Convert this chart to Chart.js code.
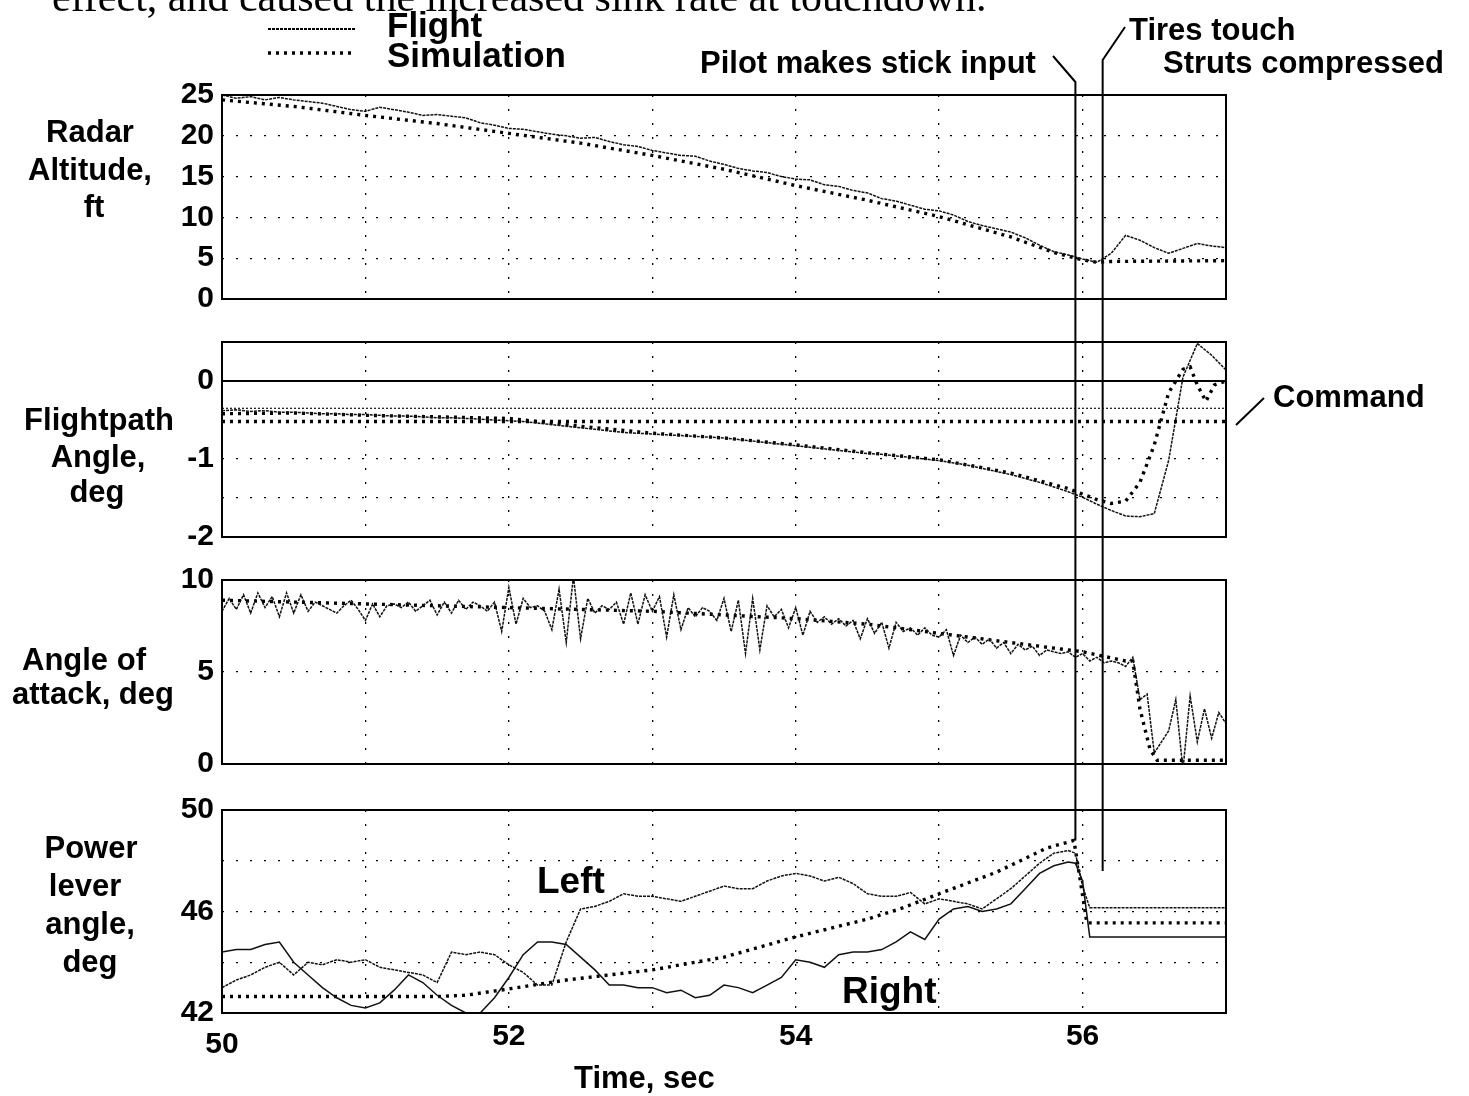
<!DOCTYPE html>
<html><head><meta charset="utf-8">
<script src="https://cdn.jsdelivr.net/npm/chart.js@4/dist/chart.umd.min.js"></script>
<style>
html,body{margin:0;padding:0;background:#fff;}
body{width:1469px;height:1096px;position:relative;overflow:hidden;font-family:"Liberation Sans",Arial,sans-serif;}
canvas.p{position:absolute;left:0;}
#ov{position:absolute;left:0;top:0;z-index:5;pointer-events:none;}
.t{position:absolute;font-weight:bold;color:#000;line-height:1;white-space:nowrap;z-index:6;}
</style></head><body>
<canvas id="c1" class="p" width="1469" height="270" style="top:55px"></canvas>
<canvas id="c2" class="p" width="1469" height="261" style="top:302px"></canvas>
<canvas id="c3" class="p" width="1469" height="250" style="top:540px"></canvas>
<canvas id="c4" class="p" width="1469" height="303" style="top:770px"></canvas>
<canvas id="ov" width="1469" height="1096"></canvas>
<div id="txt"></div>
<script>
// ---------- DATA ----------
const t10 = [50.0,50.1,50.2,50.3,50.4,50.5,50.6,50.7,50.8,50.9,
  51.0,51.1,51.2,51.3,51.4,51.5,51.6,51.7,51.8,51.9,
  52.0,52.1,52.2,52.3,52.4,52.5,52.6,52.7,52.8,52.9,
  53.0,53.1,53.2,53.3,53.4,53.5,53.6,53.7,53.8,53.9,
  54.0,54.1,54.2,54.3,54.4,54.5,54.6,54.7,54.8,54.9,
  55.0,55.1,55.2,55.3,55.4,55.5,55.6,55.7,55.8,55.9,
  56.0,56.1,56.2,56.3,56.4,56.5,56.6,56.7,56.8,56.9,57.0];

// Radar altitude, ft
const altFlight = [25.0,24.6,24.8,24.4,24.7,24.4,24.2,24.0,23.6,23.2,
  23.0,23.5,23.2,22.9,22.5,22.6,22.4,22.2,21.6,21.3,
  20.9,20.8,20.5,20.2,20.0,19.7,19.8,19.3,18.9,18.7,
  18.2,17.9,17.6,17.5,16.9,16.5,16.0,15.7,15.5,15.0,
  14.7,14.6,14.0,13.8,13.3,13.0,12.3,12.0,11.5,11.0,
  10.8,10.3,9.5,9.0,8.6,8.2,7.5,6.6,5.8,5.4,
  4.9,4.5,5.6,7.8,7.2,6.3,5.6,6.2,6.8,6.5,6.3];
const altSimTime = [50.0,50.5,51.0,51.5,52.0,52.5,53.0,53.5,54.0,54.5,55.0,55.5,55.8,56.0,56.1,56.2,57.0];
const altSim = [24.4,23.6,22.5,21.5,20.3,19.1,17.6,15.9,13.9,12.1,10.1,7.6,5.7,4.8,4.5,4.6,4.7];

// Flightpath angle, deg
const fpaFlight = [-0.38,-0.37,-0.39,-0.38,-0.40,-0.40,-0.41,-0.42,-0.42,-0.43,
  -0.43,-0.44,-0.45,-0.45,-0.46,-0.47,-0.47,-0.48,-0.49,-0.50,
  -0.51,-0.52,-0.54,-0.56,-0.58,-0.60,-0.62,-0.64,-0.66,-0.67,
  -0.68,-0.69,-0.70,-0.71,-0.72,-0.73,-0.75,-0.77,-0.79,-0.81,
  -0.83,-0.85,-0.87,-0.89,-0.91,-0.93,-0.94,-0.96,-0.98,-1.00,
  -1.02,-1.05,-1.08,-1.12,-1.16,-1.20,-1.25,-1.30,-1.36,-1.42,
  -1.49,-1.58,-1.66,-1.73,-1.74,-1.70,-1.02,0.05,0.48,0.33,0.14];
const fpaSimTime = [50.0,50.5,51.0,51.5,52.0,52.5,53.0,53.5,54.0,54.5,55.0,55.5,55.9,56.0,56.1,56.2,56.3,56.4,56.5,56.6,56.7,56.75,56.8,56.86,56.92,57.0];
const fpaSim = [-0.42,-0.41,-0.44,-0.46,-0.48,-0.58,-0.67,-0.73,-0.82,-0.92,-1.01,-1.18,-1.38,-1.45,-1.52,-1.57,-1.54,-1.30,-0.82,-0.15,0.15,0.18,-0.05,-0.26,-0.05,0.0];
const cmdTime = [50.0,57.0];
const cmdFlight = [-0.35,-0.35];
const cmdSim = [-0.52,-0.52];
const zeroLine = [0,0];

// Angle of attack, deg
const aoaTime = [
  50.00,50.05,50.10,50.15,50.20,50.25,50.30,50.35,50.40,50.45,50.50,50.55,50.60,50.65,50.70,50.75,50.80,50.85,50.90,50.95,
  51.00,51.05,51.10,51.15,51.20,51.25,51.30,51.35,51.40,51.45,51.50,51.55,51.60,51.65,51.70,51.75,51.80,51.85,51.90,51.95,
  52.00,52.05,52.10,52.15,52.20,52.25,52.30,52.35,52.40,52.45,52.50,52.55,52.60,52.65,52.70,52.75,52.80,52.85,52.90,52.95,
  53.00,53.05,53.10,53.15,53.20,53.25,53.30,53.35,53.40,53.45,53.50,53.55,53.60,53.65,53.70,53.75,53.80,53.85,53.90,53.95,
  54.00,54.05,54.10,54.15,54.20,54.25,54.30,54.35,54.40,54.45,54.50,54.55,54.60,54.65,54.70,54.75,54.80,54.85,54.90,54.95,
  55.00,55.05,55.10,55.15,55.20,55.25,55.30,55.35,55.40,55.45,55.50,55.55,55.60,55.65,55.70,55.75,55.80,55.85,55.90,55.95,
  56.00,56.05,56.10,56.15,56.20,56.25,56.30,56.35,56.40,56.45,56.50,56.55,56.60,56.65,56.70,56.75,56.80,56.85,56.90,56.95,
  57.00];
const aoaFlight = [
  8.3,9.0,8.4,9.2,8.2,9.3,8.5,9.1,8.0,9.3,8.2,9.2,8.3,8.8,8.6,8.4,8.2,8.6,8.9,8.4,
  7.8,8.7,8.0,8.6,8.7,8.5,8.8,8.3,8.6,8.9,8.1,8.8,8.2,8.9,8.4,8.8,8.6,8.3,8.8,7.2,
  9.6,7.6,9.0,8.5,8.6,8.3,7.3,9.5,6.6,10.2,6.8,9.0,8.2,8.6,8.4,8.8,7.6,9.3,7.6,9.2,
  8.3,9.1,6.9,9.2,7.3,8.5,8.0,8.5,8.3,7.8,9.0,7.2,8.9,6.0,9.0,6.2,8.6,8.0,8.4,7.4,
  8.5,7.0,8.3,7.7,8.0,7.6,7.9,7.5,7.8,6.8,7.9,7.1,7.7,6.3,7.7,7.2,7.4,7.0,7.4,7.0,
  6.9,7.3,5.9,7.0,6.6,6.9,6.5,6.8,6.3,6.6,6.0,6.5,6.2,6.4,5.9,6.2,6.1,6.0,6.1,5.8,
  6.0,5.6,5.8,5.5,5.6,5.5,5.3,5.8,3.5,3.8,0.6,1.2,1.8,3.5,-0.3,3.7,1.2,3.0,1.4,2.8,
  2.2];
const aoaSimTime = [50.0,50.5,51.0,51.5,52.0,52.5,53.0,53.5,54.0,54.5,55.0,55.5,56.0,56.3,56.35,56.4,56.47,56.52,57.0];
const aoaSim = [8.9,8.8,8.7,8.6,8.5,8.4,8.3,8.1,7.9,7.6,7.1,6.6,6.1,5.6,5.6,3.0,0.8,0.2,0.2];

// Power lever angle, deg
const powTime = [50.0,50.1,50.2,50.3,50.4,50.5,50.6,50.7,50.8,50.9,
  51.0,51.1,51.2,51.3,51.4,51.5,51.6,51.7,51.8,51.9,
  52.0,52.1,52.2,52.3,52.4,52.5,52.6,52.7,52.8,52.9,
  53.0,53.1,53.2,53.3,53.4,53.5,53.6,53.7,53.8,53.9,
  54.0,54.1,54.2,54.3,54.4,54.5,54.6,54.7,54.8,54.9,
  55.0,55.1,55.2,55.3,55.4,55.5,55.6,55.7,55.8,55.9,
  55.95,56.0,56.05,
  56.1,56.2,56.3,56.4,56.5,56.6,56.7,56.8,56.9,57.0];
const powLeft = [43.0,43.3,43.5,43.8,44.0,43.5,44.0,43.9,44.1,44.0,
  44.1,43.8,43.7,43.6,43.5,43.2,44.4,44.3,44.4,44.3,
  43.9,43.6,43.1,43.1,44.8,46.1,46.2,46.4,46.7,46.6,
  46.6,46.5,46.4,46.6,46.8,47.0,46.9,46.9,47.2,47.4,
  47.5,47.4,47.2,47.35,47.1,46.7,46.6,46.6,46.75,46.3,
  46.5,46.4,46.3,46.1,46.5,46.9,47.4,47.9,48.3,48.4,
  48.3,47.0,46.15,
  46.15,46.15,46.15,46.15,46.15,46.15,46.15,46.15,46.15,46.15];
const powRight = [44.4,44.5,44.5,44.7,44.8,44.0,43.5,43.0,42.6,42.3,
  42.2,42.4,42.9,43.5,43.2,42.7,42.3,42.0,42.0,42.6,
  43.4,44.3,44.8,44.8,44.7,44.2,43.7,43.1,43.1,43.0,
  43.0,42.8,42.9,42.6,42.7,43.1,43.0,42.8,43.1,43.4,
  44.1,44.0,43.8,44.3,44.4,44.4,44.5,44.8,45.2,44.9,
  45.7,46.1,46.2,46.0,46.1,46.3,46.9,47.5,47.8,47.95,
  47.9,47.2,45.0,
  45.0,45.0,45.0,45.0,45.0,45.0,45.0,45.0,45.0,45.0];
const powSimTime = [50.0,51.5,51.7,52.0,52.4,53.0,53.5,54.0,54.5,54.75,55.0,55.4,55.75,55.94,55.99,56.03,57.0];
const powSim = [42.65,42.65,42.7,42.95,43.3,43.7,44.2,45.0,45.7,46.15,46.7,47.55,48.5,48.8,47.0,45.55,45.55];

// Events (time, sec) and where their marker lines end in the power panel (deg)
const eventTimes = [55.95, 56.14];
const eventEnds = [48.8, 47.6];

// Tick labels
const xTickLabels = [50, 52, 54, 56];
const altTicks = [0, 5, 10, 15, 20, 25];
const fpaTicks = [0, -1, -2];
const aoaTicks = [0, 5, 10];
const powTicks = [42, 46, 50];

// ---------- CHARTS ----------
Chart.defaults.font.family = '"Liberation Sans", Arial, sans-serif';
Chart.defaults.color = '#000';

const pts = (xs, ys) => xs.map((x, i) => ({x: x, y: ys[i]}));
const flightStyle = {borderColor: '#111', borderWidth: 1.5, borderDash: [3, 1], pointRadius: 0, tension: 0, fill: false};
const simStyle = {borderColor: '#000', borderWidth: 3.4, borderDash: [3, 5], pointRadius: 0, tension: 0, fill: false};
const near = (a, b) => Math.abs(a - b) < 1e-6;

const framePlugin = {
  id: 'frame',
  afterDraw(chart) {
    const a = chart.chartArea, c = chart.ctx;
    c.save(); c.strokeStyle = '#000'; c.lineWidth = 2;
    c.strokeRect(a.left, a.top, a.right - a.left, a.bottom - a.top);
    c.restore();
  }
};

function makePanel(id, datasets, y, isBottom) {
  const xGrid = [51, 52, 53, 54, 55, 56];
  return new Chart(document.getElementById(id), {
    type: 'line',
    data: {datasets: datasets},
    plugins: [framePlugin],
    options: {
      responsive: false, animation: false, events: [],
      layout: {padding: {top: 40, right: 243, left: 0, bottom: 0}},
      plugins: {legend: {display: false}, tooltip: {enabled: false}},
      scales: {
        x: {
          type: 'linear', min: 50, max: 57,
          afterFit: s => { s.height = isBottom ? 60 : 20; },
          grid: {drawTicks: false, lineWidth: 1.3,
            color: c => (c.tick && xGrid.some(v => near(v, c.tick.value))) ? '#000' : 'rgba(0,0,0,0)'},
          border: {display: false, dash: [2, 12]},
          ticks: {
            display: isBottom, stepSize: 1, autoSkip: false, maxRotation: 0, padding: 20,
            font: {size: 30, weight: 'bold', lineHeight: 0.27},
            callback: v => {
              if (!xTickLabels.some(t => near(t, v))) return '';
              return near(v, 50) ? ['', '50'] : String(v);
            }
          }
        },
        y: {
          type: 'linear', min: y.min, max: y.max,
          afterFit: s => { s.width = 222; },
          grid: {drawTicks: false, lineWidth: 1.3,
            color: c => (c.tick && y.grid.some(v => near(v, c.tick.value))) ? '#000' : 'rgba(0,0,0,0)'},
          border: {display: false, dash: [2, 12]},
          ticks: {
            stepSize: y.step, autoSkip: false, padding: 8,
            font: {size: 30, weight: 'bold'},
            callback: v => y.labels.some(t => near(t, v)) ? String(v) : ''
          }
        }
      }
    }
  });
}

const charts = [];
charts.push(makePanel('c1', [
  Object.assign({label: 'Flight', data: pts(t10, altFlight)}, flightStyle),
  Object.assign({label: 'Simulation', data: pts(altSimTime, altSim)}, simStyle)
], {min: 0, max: 25, step: 5, labels: altTicks, grid: [5, 10, 15, 20]}, false));

charts.push(makePanel('c2', [
  Object.assign({label: 'Zero', data: pts(cmdTime, zeroLine)}, {borderColor: '#000', borderWidth: 2, pointRadius: 0}),
  Object.assign({label: 'Command (flight)', data: pts(cmdTime, cmdFlight)}, flightStyle, {borderDash: [2, 2], borderWidth: 1.2}),
  Object.assign({label: 'Command (sim)', data: pts(cmdTime, cmdSim)}, simStyle),
  Object.assign({label: 'Flight', data: pts(t10, fpaFlight)}, flightStyle),
  Object.assign({label: 'Simulation', data: pts(fpaSimTime, fpaSim)}, simStyle)
], {min: -2, max: 0.5, step: 0.5, labels: fpaTicks, grid: [-1.5, -1]}, false));

charts.push(makePanel('c3', [
  Object.assign({label: 'Flight', data: pts(aoaTime, aoaFlight)}, flightStyle),
  Object.assign({label: 'Simulation', data: pts(aoaSimTime, aoaSim)}, simStyle)
], {min: 0, max: 10, step: 5, labels: aoaTicks, grid: [5]}, false));

charts.push(makePanel('c4', [
  Object.assign({label: 'Left', data: pts(powTime, powLeft)}, flightStyle),
  Object.assign({label: 'Right', data: pts(powTime, powRight)}, flightStyle, {borderDash: []}),
  Object.assign({label: 'Simulation', data: pts(powSimTime, powSim)}, simStyle)
], {min: 42, max: 50, step: 2, labels: powTicks, grid: [44, 46, 48]}, true));

// ---------- OVERLAY (event markers, legend samples) ----------
const ov = document.getElementById('ov').getContext('2d');
const c4top = 770;
const xs = charts[3].scales.x, ys4 = charts[3].scales.y;
const ex = eventTimes.map(t => xs.getPixelForValue(t));
const ey = eventEnds.map(v => ys4.getPixelForValue(v) + c4top);
ov.strokeStyle = '#000'; ov.lineWidth = 2; ov.lineJoin = 'round';
ov.beginPath(); ov.moveTo(1053, 56); ov.lineTo(ex[0], 82); ov.lineTo(ex[0], ey[0]); ov.stroke();
ov.beginPath(); ov.moveTo(1125, 27); ov.lineTo(ex[1], 60); ov.lineTo(ex[1], ey[1]); ov.stroke();
ov.beginPath(); ov.moveTo(1236, 425); ov.lineTo(1264, 398); ov.stroke();
// legend samples
ov.save(); ov.lineWidth = 2; ov.setLineDash([3, 1]);
ov.beginPath(); ov.moveTo(268, 29); ov.lineTo(356, 29); ov.stroke(); ov.restore();
ov.save(); ov.lineWidth = 3.4; ov.setLineDash([3, 5]);
ov.beginPath(); ov.moveTo(268, 53); ov.lineTo(356, 53); ov.stroke(); ov.restore();

// ---------- TEXT ----------
const texts = [
  {s: 'effect, and caused the increased sink rate at touchdown.', x: 52, b: 11, size: 42, serif: true},
  {s: 'Flight', x: 387, b: 37, size: 35},
  {s: 'Simulation', x: 387, b: 67, size: 35},
  {s: 'Pilot makes stick input', x: 700, b: 73, size: 31},
  {s: 'Tires touch', x: 1129, b: 40, size: 31},
  {s: 'Struts compressed', x: 1163, b: 73, size: 31},
  {s: 'Command', x: 1273, b: 407, size: 31},
  {s: 'Left', x: 537, b: 893, size: 37},
  {s: 'Right', x: 842, b: 1003, size: 37},
  {s: 'Time, sec', x: 574, b: 1088, size: 31},
  {s: 'Radar', x: 90, b: 142, size: 31, c: true},
  {s: 'Altitude,', x: 90, b: 180, size: 31, c: true},
  {s: 'ft', x: 94, b: 217, size: 31, c: true},
  {s: 'Flightpath', x: 99, b: 430, size: 31, c: true},
  {s: 'Angle,', x: 98, b: 467, size: 31, c: true},
  {s: 'deg', x: 97, b: 502, size: 31, c: true},
  {s: 'Angle of', x: 84, b: 670, size: 31, c: true},
  {s: 'attack, deg', x: 93, b: 704, size: 31, c: true},
  {s: 'Power', x: 91, b: 858, size: 31, c: true},
  {s: 'lever', x: 85, b: 896, size: 31, c: true},
  {s: 'angle,', x: 90, b: 934, size: 31, c: true},
  {s: 'deg', x: 90, b: 972, size: 31, c: true}
];
const host = document.getElementById('txt');
texts.forEach(o => {
  const d = document.createElement('div');
  d.className = 't';
  d.textContent = o.s;
  const asc = o.serif ? 0.8375 : 0.8465;
  d.style.fontSize = o.size + 'px';
  d.style.top = (o.b - asc * o.size) + 'px';
  d.style.left = o.x + 'px';
  if (o.c) d.style.transform = 'translateX(-50%)';
  if (o.serif) { d.style.fontFamily = '"Liberation Serif", "Times New Roman", serif'; d.style.fontWeight = 'normal'; }
  host.appendChild(d);
});
</script>
</body></html>
